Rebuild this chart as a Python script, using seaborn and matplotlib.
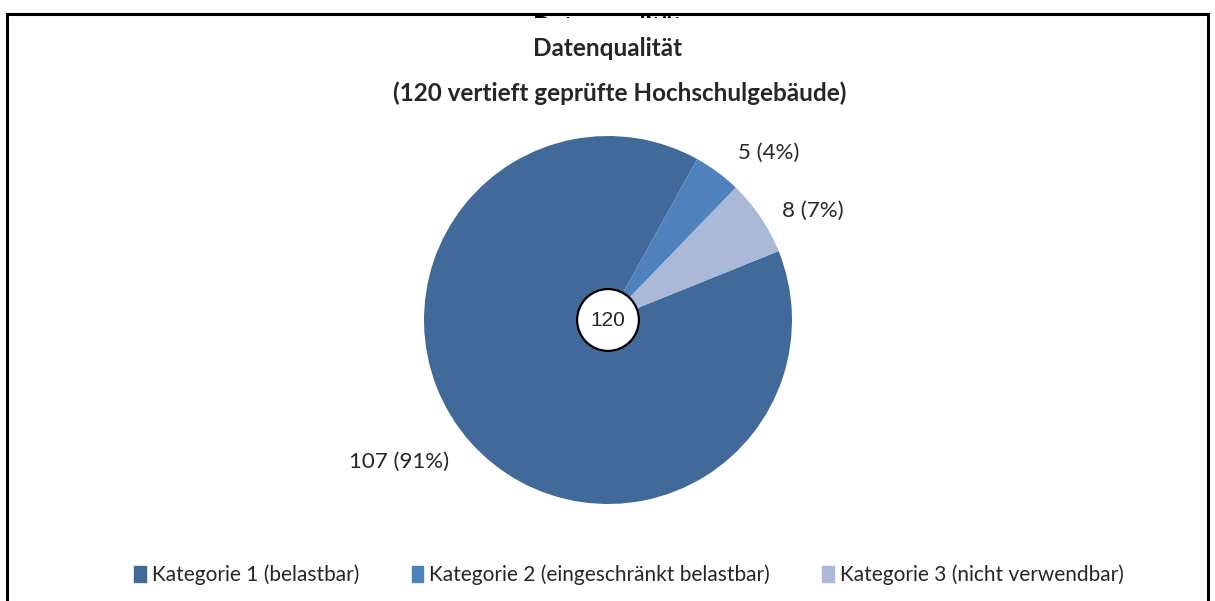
import numpy as np
import matplotlib
matplotlib.use("Agg")
import matplotlib.pyplot as plt
import matplotlib.patches as mpatches
import seaborn as sns

# data
categories = ["Kategorie 1 (belastbar)",
              "Kategorie 2 (eingeschränkt belastbar)",
              "Kategorie 3 (nicht verwendbar)"]
counts = [107, 5, 8]
shares = ["91%", "4%", "7%"]
total = 120
colors = ["#416A9B", "#4F81BD", "#AAB9D8"]

sns.set_theme(style="white")
plt.rcParams['font.family'] = ['Lato', 'DejaVu Sans']

W, H = 1215, 601
fig = plt.figure(figsize=(W / 100, H / 100), dpi=100)
fig.patch.set_facecolor("white")

# outer frame (bottom edge lies outside the picture)
frame = mpatches.Rectangle((7 / W, -0.1), (1208 - 7) / W, 1.1 - 14 / H,
                           transform=fig.transFigure, fill=False,
                           edgecolor="black", linewidth=2.2)
fig.patches.append(frame)

# leftover title at the very top, almost fully hidden
ghost = fig.text(608 / W, 1 - 15 / H, "Datenqualität", ha="center", va="top",
                 fontsize=17.5, fontweight="bold", color="black")
clip = mpatches.Rectangle((0, 1 - 17.5 / H), 1, 2.5 / H, transform=fig.transFigure)
ghost.set_clip_path(clip)

fig.text(608 / W, 1 - 48 / H, "Datenqualität", ha="center", va="center",
         fontsize=17.5, fontweight="bold")
fig.text(620 / W, 1 - 93 / H, "(120 vertieft geprüfte Hochschulgebäude)",
         ha="center", va="center", fontsize=17.5, fontweight="bold")

ax = fig.add_axes([424 / W, (H - 504) / H, 368 / W, 368 / H])
wedges, _ = ax.pie(counts, colors=colors, startangle=22, counterclock=False,
                   radius=1, wedgeprops=dict(linewidth=0))
ax.set_xlim(-1, 1)
ax.set_ylim(-1, 1)
ax.set_aspect("equal")
ax.axis("off")

# outside labels, placed from each wedge's middle angle
nudges = [(-7.3, 1.37), (-7.5, 1.26), (-6, 1.26)]
for w, n, s, (da, dist) in zip(wedges, counts, shares, nudges):
    mid = np.deg2rad((w.theta1 + w.theta2) / 2 + da)
    ax.text(dist * np.cos(mid), dist * np.sin(mid), f"{n} ({s})",
            ha="center", va="center", fontsize=16, clip_on=False)

# total in the centre
ax.add_patch(mpatches.Circle((0, 0), 0.168, facecolor="white",
                             edgecolor="black", linewidth=1.6, zorder=5))
ax.text(0, 0, str(total), ha="center", va="center", fontsize=15,
        family=["Liberation Sans", "DejaVu Sans"], zorder=6)

handles = [mpatches.Patch(color=c) for c in colors]
fig.legend(handles, categories, loc="center", bbox_to_anchor=(629 / W, 1 - 575 / H),
           ncol=3, frameon=False, fontsize=15, handlelength=0.55, handleheight=0.8,
           handletextpad=0.3, columnspacing=2.5)

fig.savefig("out.png", dpi=100, facecolor="white")
